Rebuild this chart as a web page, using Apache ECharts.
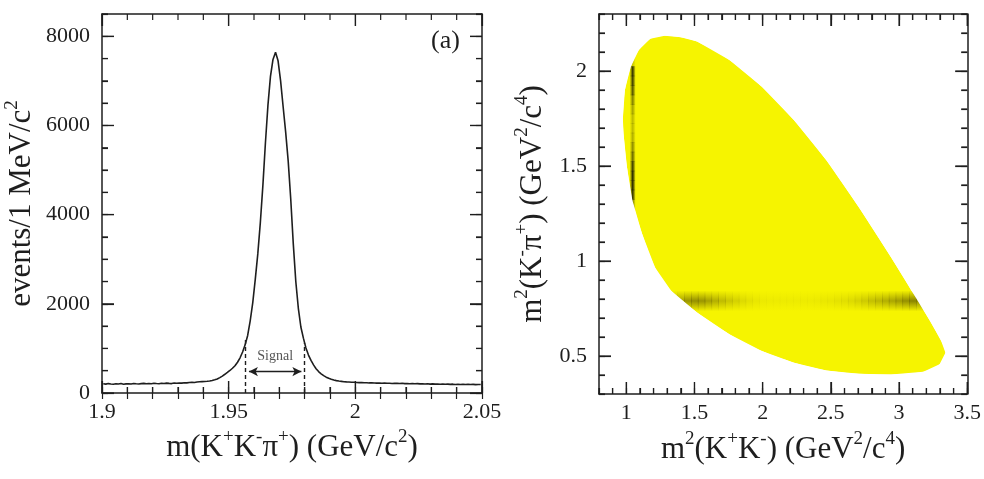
<!DOCTYPE html>
<html>
<head>
<meta charset="utf-8">
<script src="https://cdn.jsdelivr.net/npm/echarts@6/dist/echarts.min.js"></script>
<style>
html, body { margin: 0; padding: 0; background: #fff; }
#main { width: 984px; height: 479px; }
</style>
</head>
<body>
<div id="main"></div>
<script>
var myChart = echarts.init(document.getElementById('main'));

var FONT = 'Liberation Serif';
var INK = '#1e1e1e';
var YELLOW = '#f6f400';

// (a) m(K+K-pi+) histogram, 1 MeV bins starting at 1.900 GeV
var binStart = 1.9;
var binWidth = 0.001;
var eventCounts = [
    206, 199, 211, 203, 196, 208, 201, 212, 198, 205,
    209, 200, 214, 206, 203, 211, 216, 207, 213, 209,
    218, 212, 207, 219, 214, 222, 216, 211, 224, 219,
    226, 221, 231, 227, 236, 240, 237, 246, 251, 255,
    258, 262, 270, 281, 296, 315, 345, 380, 420, 462,
    505, 555, 611, 690, 790, 920, 1080, 1290, 1620, 2020,
    2550, 3120, 3820, 4650, 5600, 6450, 7100, 7480, 7640, 7450,
    7000, 6420, 5850, 5200, 4350, 3350, 2500, 1900, 1480, 1230,
    1010, 850, 730, 630, 545, 480, 430, 390, 355, 330,
    308, 292, 278, 268, 261, 254, 249, 246, 241, 240,
    236, 233, 235, 229, 231, 226, 228, 224, 222, 225,
    219, 223, 217, 220, 214, 218, 216, 212, 217, 211,
    214, 209, 212, 206, 210, 204, 208, 203, 206, 200,
    205, 199, 202, 197, 201, 195, 199, 194, 198, 192,
    197, 191, 195, 190, 194, 189, 193, 188, 192, 190
];
var signalLow = 1.9567, signalHigh = 1.9799;
var signalLowTop = 1190, signalHighTop = 1120;
var arrowFrom = 1.9580, arrowTo = 1.9787, arrowLevel = 480;

var massTicks = [1.9, 1.95, 2, 2.05];
var countTicks = [0, 2000, 4000, 6000, 8000];

// (b) Dalitz plot boundary
var dalitzX = [1.282, 1.40, 1.519, 1.756, 1.994, 2.23, 2.467, 2.705, 2.942, 3.107,
               3.226, 3.309, 3.34, 3.297, 3.178, 2.942, 2.705, 2.467, 2.23, 1.994,
               1.756, 1.519, 1.329, 1.211, 1.116, 1.045, 1.005, 0.98, 0.975, 0.99,
               1.033, 1.092, 1.176];
var dalitzY = [2.185, 2.178, 2.155, 2.058, 1.917, 1.741, 1.53, 1.283, 1.019, 0.826,
               0.685, 0.579, 0.517, 0.456, 0.417, 0.403, 0.407, 0.424, 0.465, 0.526,
               0.615, 0.729, 0.843, 0.966, 1.143, 1.319, 1.495, 1.67, 1.75, 1.9,
               2.023, 2.11, 2.17];

// phi(1020) band: m2(K+K-) ~ 1.047, darkness along m2(K-pi+)
var phiM2 = 1.047;
var phiY = [2.05, 2.0, 1.95, 1.9, 1.85, 1.8, 1.75, 1.7, 1.65, 1.6, 1.55, 1.5, 1.45, 1.4, 1.35, 1.3, 1.25];
var phiDark = [0.2, 0.85, 0.8, 0.7, 0.5, 0.35, 0.25, 0.25, 0.3, 0.45, 0.6, 0.8, 0.9, 0.9, 0.85, 0.5, 0.15];

// K*(892) band: m2(K-pi+) ~ 0.79, darkness along m2(K+K-)
var kstarM2 = 0.79;
var kstarX = [1.3, 1.35, 1.4, 1.45, 1.5, 1.55, 1.6, 1.65, 1.7, 1.75, 1.8, 1.85, 1.9, 1.95, 2.0,
              2.05, 2.1, 2.15, 2.2, 2.25, 2.3, 2.35, 2.4, 2.45, 2.5, 2.55, 2.6, 2.65, 2.7, 2.75,
              2.8, 2.85, 2.9, 2.95, 3.0, 3.05, 3.1, 3.15, 3.2];
var kstarDark = [0.1, 0.3, 0.45, 0.55, 0.58, 0.55, 0.48, 0.4, 0.33, 0.26, 0.2, 0.15, 0.11, 0.08, 0.06,
                 0.05, 0.05, 0.05, 0.05, 0.05, 0.05, 0.05, 0.06, 0.07, 0.08, 0.1, 0.12, 0.15, 0.19, 0.24,
                 0.3, 0.35, 0.4, 0.45, 0.5, 0.58, 0.65, 0.55, 0.3];

var m2Ticks = [1, 1.5, 2, 2.5, 3, 3.5];
var m2yTicks = [0.5, 1, 1.5, 2];

var histData = eventCounts.map(function (v, i) {
    return [binStart + binWidth * (i + 0.5), v];
});

function plainNumber(v) { return String(+v.toFixed(4)); }

// two axes per side: short ticks every step, long ticks + labels at majors
function sideAxes(grid, position, min, max, step, majors, labels, name, nameGap) {
    var minor = {
        type: 'value', gridIndex: grid, position: position, min: min, max: max, interval: step,
        axisLine: { show: false }, axisLabel: { show: false }, splitLine: { show: false },
        axisTick: { show: true, inside: true, length: 6, lineStyle: { color: INK, width: 1.2 } }, z: 6
    };
    var major = {
        type: 'value', gridIndex: grid, position: position, min: min, max: max,
        axisLine: { show: true, onZero: false, lineStyle: { color: INK, width: 1.5 } },
        axisTick: { show: true, inside: true, length: 12, customValues: majors, lineStyle: { color: INK, width: 1.2 } },
        axisLabel: {
            show: labels, customValues: majors, formatter: plainNumber,
            fontFamily: FONT, fontSize: 22, color: INK,
            margin: (position === 'bottom') ? 8 : 12
        },
        splitLine: { show: false }, z: 6
    };
    if (name) {
        major.name = name;
        major.nameLocation = 'middle';
        major.nameGap = nameGap;
        major.nameTextStyle = {
            fontFamily: FONT, fontSize: 31, color: INK, lineHeight: 40,
            rich: { s: { fontFamily: FONT, fontSize: 19, color: INK, verticalAlign: 'top', lineHeight: 19 } }
        };
    }
    return [major, minor];
}

var xAxes = [].concat(
    sideAxes(0, 'bottom', 1.9, 2.05, 0.01, massTicks, true,
        'm(K{s|+}K{s|-}π{s|+}) (GeV/c{s|2})', 34),
    sideAxes(0, 'top', 1.9, 2.05, 0.01, massTicks, false),
    sideAxes(1, 'bottom', 0.8, 3.5, 0.1, m2Ticks, true,
        'm{s|2}(K{s|+}K{s|-}) (GeV{s|2}/c{s|4})', 36),
    sideAxes(1, 'top', 0.8, 3.5, 0.1, m2Ticks, false)
);
var yAxes = [].concat(
    sideAxes(0, 'left', 0, 8500, 500, countTicks, true,
        'events/1 MeV/c{s|2}', 58),
    sideAxes(0, 'right', 0, 8500, 500, countTicks, false),
    sideAxes(1, 'left', 0.3, 2.3, 0.1, m2yTicks, true,
        'm{s|2}(K{s|-}π{s|+}) (GeV{s|2}/c{s|4})', 46),
    sideAxes(1, 'right', 0.3, 2.3, 0.1, m2yTicks, false)
);

function boundaryPoints(api) {
    return dalitzX.map(function (x, i) { return api.coord([x, dalitzY[i]]); });
}

function renderRegion(params, api) {
    if (params.dataIndex !== 0) return;
    return { type: 'polygon', shape: { points: boundaryPoints(api), smooth: 0.3 }, style: { fill: YELLOW } };
}

// white mask outside the allowed region (keeps resonance bands inside)
function renderMask(params, api) {
    if (params.dataIndex !== 0) return;
    var a = api.coord([0.8, 2.3]), b = api.coord([3.5, 0.3]);
    var pts = boundaryPoints(api);
    var area = 0;
    for (var i = 0; i < pts.length; i++) {
        var p = pts[i], q = pts[(i + 1) % pts.length];
        area += p[0] * q[1] - q[0] * p[1];
    }
    if (area > 0) pts = pts.slice().reverse();
    var d = 'M' + a[0] + ' ' + a[1] + 'L' + b[0] + ' ' + a[1] + 'L' + b[0] + ' ' + b[1] + 'L' + a[0] + ' ' + b[1] + 'Z';
    d += 'M' + pts.map(function (p) { return p[0] + ' ' + p[1]; }).join('L') + 'Z';
    return {
        type: 'path',
        shape: { pathData: d, x: a[0], y: a[1], width: b[0] - a[0], height: b[1] - a[1], layout: 'cover' },
        style: { fill: '#ffffff' }
    };
}

function shade(rgb, a, horizontal) {
    return new echarts.graphic.LinearGradient(0, 0, horizontal ? 1 : 0, horizontal ? 0 : 1, [
        { offset: 0, color: 'rgba(' + rgb + ',0)' },
        { offset: 0.5, color: 'rgba(' + rgb + ',' + a + ')' },
        { offset: 1, color: 'rgba(' + rgb + ',0)' }
    ]);
}

function renderKstar(params, api) {
    var x = api.value(0), yc = api.value(1), a = api.value(2);
    var p0 = api.coord([x - 0.025, yc + 0.055]);
    var p1 = api.coord([x + 0.025, yc - 0.055]);
    return {
        type: 'rect',
        shape: { x: p0[0], y: p0[1], width: p1[0] - p0[0] + 0.6, height: p1[1] - p0[1] },
        style: { fill: shade('80,72,0', a, false) }
    };
}

function renderPhi(params, api) {
    var xc = api.value(0), y = api.value(1), a = api.value(2);
    var p0 = api.coord([xc - 0.022, y + 0.025]);
    var p1 = api.coord([xc + 0.022, y - 0.025]);
    return {
        type: 'rect',
        shape: { x: p0[0], y: p0[1], width: p1[0] - p0[0], height: p1[1] - p0[1] + 0.6 },
        style: { fill: shade('15,15,0', a, true) }
    };
}

var dashStyle = { type: [4, 3], color: INK, width: 1.4 };

var panelLabels = [
    { type: 'text', left: 431, top: 28, style: { text: '(a)', font: '26px "Liberation Serif"', fill: INK } },
    { type: 'text', left: 927, top: 28, style: { text: '(b)', font: '26px "Liberation Serif"', fill: INK } }
];

option = {
    animation: false,
    grid: [
        { left: 102, top: 14, width: 380, height: 379 },
        { left: 599, top: 14, width: 380, height: 380 }
    ],
    xAxis: xAxes,
    yAxis: yAxes,
    graphic: panelLabels,
    series: [{
        name: 'events',
        type: 'line',
        xAxisIndex: 0,
        yAxisIndex: 0,
        data: histData,
        showSymbol: false,
        lineStyle: { color: INK, width: 1.6 },
        markLine: {
            silent: true,
            symbol: ['none', 'none'],
            lineStyle: dashStyle,
            label: { show: false },
            data: [
                [{ coord: [signalLow, 0] }, { coord: [signalLow, signalLowTop] }],
                [{ coord: [signalHigh, 0] }, { coord: [signalHigh, signalHighTop] }],
                [{
                    coord: [arrowFrom, arrowLevel], symbol: 'arrow', symbolSize: [7, 9],
                    lineStyle: { type: 'solid', color: INK, width: 1.4 },
                    label: {
                        show: true, position: 'insideMiddleTop', distance: 8, formatter: 'Signal',
                        fontFamily: FONT, fontSize: 14, color: '#555'
                    }
                }, { coord: [arrowTo, arrowLevel], symbol: 'arrow', symbolSize: [7, 9] }]
            ]
        }
    }, {
        name: 'region',
        type: 'custom',
        xAxisIndex: 4,
        yAxisIndex: 4,
        renderItem: renderRegion,
        data: dalitzX.map(function (x, i) { return [x, dalitzY[i]]; }),
        silent: true,
        z: 2
    }, {
        name: 'K*(892)',
        type: 'custom',
        xAxisIndex: 4,
        yAxisIndex: 4,
        renderItem: renderKstar,
        data: kstarX.map(function (x, i) { return [x, kstarM2, kstarDark[i]]; }),
        silent: true,
        z: 3
    }, {
        name: 'phi(1020)',
        type: 'custom',
        xAxisIndex: 4,
        yAxisIndex: 4,
        renderItem: renderPhi,
        data: phiY.map(function (y, i) { return [phiM2, y, phiDark[i]]; }),
        silent: true,
        z: 3
    }, {
        name: 'mask',
        type: 'custom',
        xAxisIndex: 4,
        yAxisIndex: 4,
        renderItem: renderMask,
        data: dalitzX.map(function (x, i) { return [x, dalitzY[i]]; }),
        silent: true,
        z: 4
    }]
};

myChart.setOption(option);

// frame ticks drawn again through the chart's own scales, so they show whatever the axis stage does
var framePanels = [
    { finder: { seriesIndex: 0 }, x: [1.9, 2.05, 0.01, massTicks], y: [0, 8500, 500, countTicks] },
    { finder: { seriesIndex: 1 }, x: [0.8, 3.5, 0.1, m2Ticks], y: [0.3, 2.3, 0.1, m2yTicks] }
];
function stepValues(min, max, step) {
    var out = [], n = Math.round((max - min) / step);
    for (var i = 0; i <= n; i++) out.push(+(min + i * step).toFixed(6));
    return out;
}
function isMajor(list, v) {
    return list.some(function (m) { return Math.abs(m - v) < 1e-6; });
}
var tickEls = [];
function tickLine(x1, y1, x2, y2) {
    tickEls.push({ type: 'line', silent: true, z: 100,
        shape: { x1: x1, y1: y1, x2: x2, y2: y2 }, style: { stroke: INK, lineWidth: 1.2 } });
}
framePanels.forEach(function (p) {
    var tl = myChart.convertToPixel(p.finder, [p.x[0], p.y[1]]);
    var br = myChart.convertToPixel(p.finder, [p.x[1], p.y[0]]);
    if (!tl || !br) return;
    stepValues(p.x[0], p.x[1], p.x[2]).forEach(function (v) {
        var len = isMajor(p.x[3], v) ? 12 : 6;
        var px = myChart.convertToPixel(p.finder, [v, p.y[0]])[0];
        tickLine(px, br[1], px, br[1] - len);
        tickLine(px, tl[1], px, tl[1] + len);
    });
    stepValues(p.y[0], p.y[1], p.y[2]).forEach(function (v) {
        var len = isMajor(p.y[3], v) ? 12 : 6;
        var py = myChart.convertToPixel(p.finder, [p.x[0], v])[1];
        tickLine(tl[0], py, tl[0] + len, py);
        tickLine(br[0], py, br[0] - len, py);
    });
});
myChart.setOption({ graphic: panelLabels.concat(tickEls) });
</script>
</body>
</html>
